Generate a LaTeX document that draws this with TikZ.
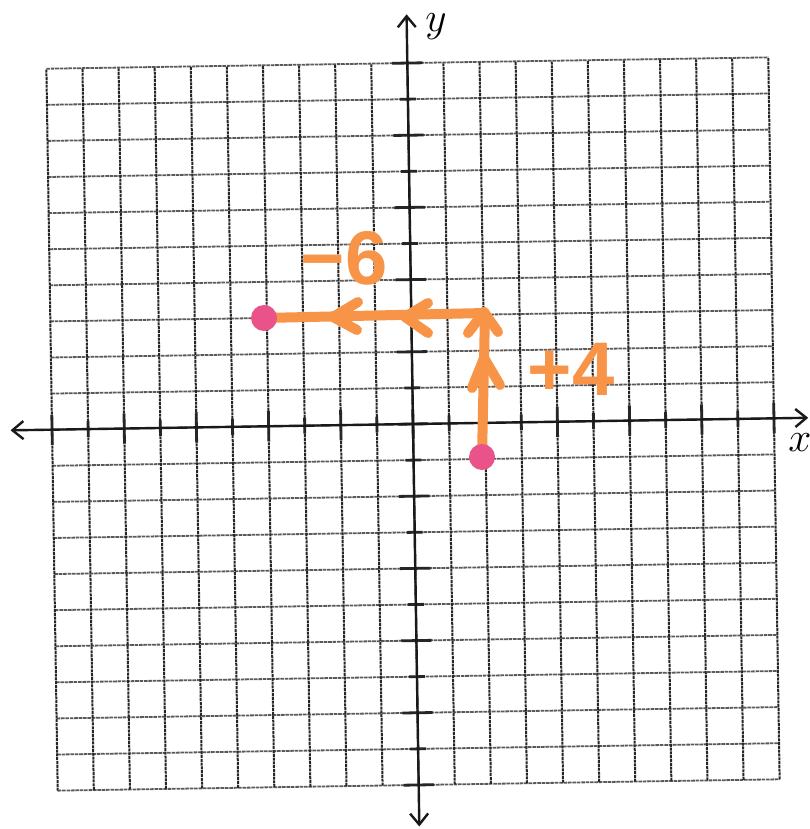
\documentclass[tikz,border=0pt]{standalone}
\usepackage{fontspec}
\newfontfamily\markerfont{Liberation Sans}
\usetikzlibrary{arrows.meta}
\definecolor{marker}{RGB}{248,148,72}
\definecolor{dotpink}{RGB}{234,82,138}
\tikzset{
  >={Straight Barb[length=5.5pt,width=9pt]},
  vgridline/.style={draw=black!85, line width=1.0pt, dash pattern=on 1.5pt off 0.4pt},
  hgridline/.style={draw=black!65, line width=0.9pt, dash pattern=on 1.8pt off 0.4pt},
  axisline/.style={draw=black!90, line width=1.2pt, <->},
  tickline/.style={draw=black!85, line width=1.4pt},
  orangeline/.style={draw=marker, line width=5pt, line cap=round, line join=round},
  chevron/.style={draw=marker, line width=5pt, line cap=round, line join=round},
  pinkdot/.style={circle, fill=dotpink, minimum size=13pt, inner sep=0pt},
  markertext/.style={text=marker, font=\markerfont\bfseries\fontsize{38}{40}\selectfont, inner sep=0pt},
  axislabel/.style={font=\fontsize{20}{22}\selectfont, inner sep=0pt}
}
\begin{document}
\begin{tikzpicture}[x=0.5pt, y=-0.5pt]
\fill[white] (0,0) rectangle (809,829);
\useasboundingbox (0,0) rectangle (809,829);
\begin{scope}[shift={(413,424)}, rotate=0.9, x=18.05pt, y=18.05pt]
  \foreach \i in {-10,...,10} {
    \draw[hgridline] (-10,\i) -- (10,\i);
  }
  \foreach \i in {-10,...,10} {
    \draw[vgridline] (\i,-10) -- (\i,10);
  }
  \foreach \i in {-10,-8,...,10} {
    \draw[tickline] (-0.42,\i) -- (0.42,\i);
    \draw[tickline] (\i,-0.42) -- (\i,0.42);
  }
  \foreach \i in {-9,-7,...,9} {
    \draw[tickline] (-0.22,\i) -- (0.22,\i);
    \draw[tickline] (\i,-0.22) -- (\i,0.22);
  }
  \coordinate (xl) at (-11.15,0);
  \coordinate (xr) at (10.95,0);
  \coordinate (yt) at (0,11.35);
  \coordinate (yb) at (0,-11.15);
  \draw[axisline] (xl) -- (xr);
  \draw[axisline] (yb) -- (yt);
\end{scope}
\node[axislabel] (ylabel) at (436,27) {$y$};
\node[axislabel] (xlabel) at (800,443) {$x$};
% translation path
\coordinate (A) at (264,318);
\coordinate (C) at (485,313);
\coordinate (B) at (482,457);
\draw[orangeline] (B) -- (C) -- (A);
\coordinate (h1) at (333,317);
\coordinate (h2) at (405,317);
\coordinate (v1) at (484,312);
\coordinate (v2) at (484,358);
\draw[chevron] ([shift={(25,-15)}]h1) -- (h1) -- ([shift={(24,13)}]h1);
\draw[chevron] ([shift={(23,-14)}]h2) -- (h2) -- ([shift={(23,16)}]h2);
\draw[chevron] ([shift={(-16,21)}]v1) -- (v1) -- ([shift={(14,20)}]v1);
\draw[chevron] ([shift={(-12,30)}]v2) -- (v2) -- ([shift={(16,27)}]v2);
\node[pinkdot] (dotA) at (A) {};
\node[pinkdot] (dotB) at (B) {};
\node[markertext] (minus6) at (344,258) {−6};
\node[markertext] (plus4) at (571,369) {+4};
\end{tikzpicture}
\end{document}
